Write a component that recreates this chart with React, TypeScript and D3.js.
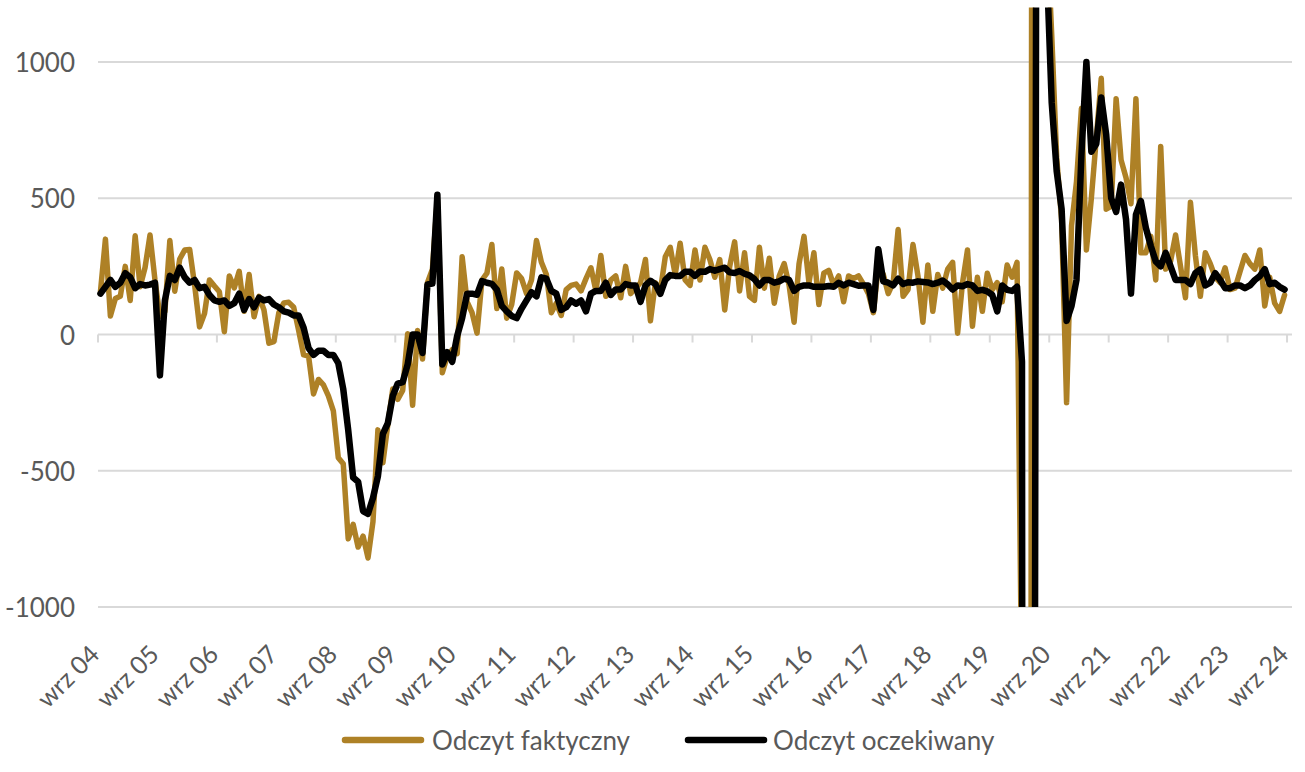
import React from "react";
import * as d3 from "d3";

// Tick labels (every 12 months, starting Sep 2004)
const tickLabels = [
  "wrz 04", "wrz 05", "wrz 06", "wrz 07", "wrz 08", "wrz 09", "wrz 10",
  "wrz 11", "wrz 12", "wrz 13", "wrz 14", "wrz 15", "wrz 16", "wrz 17",
  "wrz 18", "wrz 19", "wrz 20", "wrz 21", "wrz 22", "wrz 23", "wrz 24",
];

const yTicks = [-1000, -500, 0, 500, 1000];

// Monthly categories: Sep 2004 .. Aug 2024 (plus an empty Sep 2024 slot on the axis)
const firstMonth = new Date(2004, 8, 1);
const axisEndMonth = new Date(2024, 9, 1);
const slots = d3.timeMonth.range(firstMonth, axisEndMonth); // 241 slots

// Odczyt faktyczny (actual), thousands
const actual = [
  158, 350, 68, 132, 140, 250, 125, 362, 175, 246,
  365, 200, 67, 84, 345, 159, 277, 310, 312, 182,
  28, 77, 200, 178, 157, 10, 215, 171, 232, 85,
  220, 65, 140, 90, -32, -26, 80, 116, 118, 100,
  15, -75, -79, -218, -165, -185, -225, -280, -452, -474,
  -750, -697, -780, -740, -820, -687, -350, -471, -330, -200,
  -238, -205, 3, -260, 15, -90, 190, 240, 500, -140,
  -80, -56, -70, 285, 120, 80, 5, 200, 225, 330,
  95, 240, 60, 110, 226, 205, 150, 200, 345, 265,
  220, 80, 115, 70, 165, 180, 185, 160, 205, 245,
  160, 290, 140, 200, 215, 135, 250, 150, 170, 190,
  275, 50, 190, 160, 285, 320, 220, 335, 200, 180,
  310, 200, 320, 275, 210, 275, 90, 250, 340, 160,
  300, 140, 125, 320, 170, 280, 115, 215, 260, 180,
  45, 260, 360, 190, 300, 110, 225, 235, 180, 215,
  120, 215, 205, 215, 185, 150, 80, 250, 220, 150,
  190, 385, 140, 165, 330, 215, 45, 255, 85, 220,
  170, 240, 265, 5, 190, 310, 30, 210, 85, 225,
  165, 190, 120, 255, 210, 265, -1400, -20500, 2700, 4800,
  1700, 1500, 1100, 650, 420, -250, 400, 560, 830, 310,
  500, 720, 940, 460, 470, 865, 640, 575, 480, 865,
  300, 300, 360, 200, 690, 240, 270, 365, 250, 135,
  485, 290, 140, 300, 260, 210, 190, 245, 165, 170,
  230, 290, 260, 240, 310, 105, 210, 115, 85, 145,
];

// Odczyt oczekiwany (expected), thousands
const expected = [
  150, 175, 200, 175, 190, 225, 210, 170, 185, 180,
  183, 190, -150, 125, 215, 200, 245, 210, 190, 200,
  170, 175, 145, 125, 120, 125, 105, 115, 150, 90,
  130, 100, 135, 125, 130, 110, 100, 85, 80, 70,
  70, 25, -50, -75, -60, -60, -75, -75, -105, -200,
  -350, -525, -540, -648, -658, -600, -520, -365, -325, -225,
  -180, -175, -110, 0, 0, -68, 184, 187, 513, -110,
  -65, -100, -5, 60, 150, 150, 146, 196, 190, 186,
  165, 105, 85, 68, 60, 95, 125, 155, 140, 210,
  205, 160, 150, 90, 100, 125, 113, 125, 85, 150,
  160, 160, 190, 145, 165, 165, 185, 180, 180, 120,
  180, 197, 185, 149, 200, 218, 215, 215, 230, 230,
  215, 231, 230, 240, 234, 240, 245, 228, 226, 233,
  223, 217, 203, 180, 200, 200, 190, 195, 205, 200,
  160, 175, 180, 180, 175, 175, 175, 178, 175, 190,
  180, 190, 185, 179, 180, 180, 90, 313, 195, 190,
  180, 205, 185, 192, 190, 195, 193, 191, 185, 190,
  198, 184, 165, 180, 177, 185, 180, 160, 164, 158,
  145, 85, 180, 164, 160, 175, -100, -22000, -8000, 3000,
  1600, 1350, 850, 600, 460, 50, 105, 200, 660, 1000,
  671, 700, 870, 733, 500, 450, 550, 422, 150, 440,
  490, 391, 325, 268, 250, 300, 250, 200, 200, 200,
  185, 225, 239, 180, 190, 225, 200, 170, 170, 180,
  180, 170, 180, 200, 214, 240, 185, 190, 175, 165,
];

const seriesNames = ["Odczyt faktyczny", "Odczyt oczekiwany"];
const GOLD = "#AE8126";
const BLACK = "#000000";
const GRID = "#D9D9D9";
const TEXT = "#595959";
const FONT = "Lato, 'Open Sans', 'DejaVu Sans', sans-serif";

export default function App() {
  const W = 1305;
  const H = 772;
  const x = d3.scaleLinear().domain([0, slots.length]).range([98, 1292]);
  const y = d3.scaleLinear().domain([-1000, 1000]).range([607, 62]);
  const yMax = 1200;

  const line = d3
    .line<number>()
    .x((_, i) => x(i + 0.5))
    .y((d) => y(d))
    .curve(d3.curveLinear);

  const clipTop = y(yMax);
  const clipBottom = y(-1000);

  return (
    <svg
      width={W}
      height={H}
      style={{ position: "absolute", left: 0, top: 0, background: "#fff" }}
      fontFamily={FONT}
    >
      <defs>
        <clipPath id="plotClip">
          <rect x={0} y={clipTop} width={W} height={clipBottom - clipTop} />
        </clipPath>
      </defs>

      {/* gridlines */}
      {yTicks.map((t) => (
        <line
          key={t}
          x1={x(0)}
          x2={x(slots.length)}
          y1={y(t)}
          y2={y(t)}
          stroke={GRID}
          strokeWidth={2}
        />
      ))}

      {/* x tick marks on zero line */}
      {tickLabels.map((_, k) => (
        <line
          key={"t" + k}
          x1={x(k * 12)}
          x2={x(k * 12)}
          y1={y(0)}
          y2={y(0) + 8}
          stroke={GRID}
          strokeWidth={2}
        />
      ))}

      {/* y labels */}
      {yTicks.map((t) => (
        <text
          key={"yl" + t}
          x={75}
          y={y(t)}
          textAnchor="end"
          dominantBaseline="central"
          fontSize={26}
          fill={TEXT}
        >
          {t}
        </text>
      ))}

      {/* x labels */}
      {tickLabels.map((lab, k) => {
        const ax = x(k * 12) + 3;
        const ay = 656;
        return (
          <text
            key={"xl" + k}
            transform={`translate(${ax},${ay}) rotate(-45)`}
            textAnchor="end"
            fontSize={25}
            fill={TEXT}
          >
            {lab}
          </text>
        );
      })}

      {/* series */}
      <g clipPath="url(#plotClip)">
        <path
          d={line(actual) || ""}
          fill="none"
          stroke={GOLD}
          strokeWidth={5.5}
          strokeLinejoin="round"
          strokeLinecap="round"
        />
        <path
          d={line(expected) || ""}
          fill="none"
          stroke={BLACK}
          strokeWidth={6.5}
          strokeLinejoin="round"
          strokeLinecap="round"
        />
      </g>

      {/* legend */}
      <line x1={345} x2={421} y1={740} y2={740} stroke={GOLD} strokeWidth={6.5} strokeLinecap="round" />
      <text x={432} y={740} dominantBaseline="central" fontSize={26} fill={TEXT}>
        {seriesNames[0]}
      </text>
      <line x1={688} x2={764} y1={740} y2={740} stroke={BLACK} strokeWidth={6.5} strokeLinecap="round" />
      <text x={773} y={740} dominantBaseline="central" fontSize={26} fill={TEXT}>
        {seriesNames[1]}
      </text>
    </svg>
  );
}
